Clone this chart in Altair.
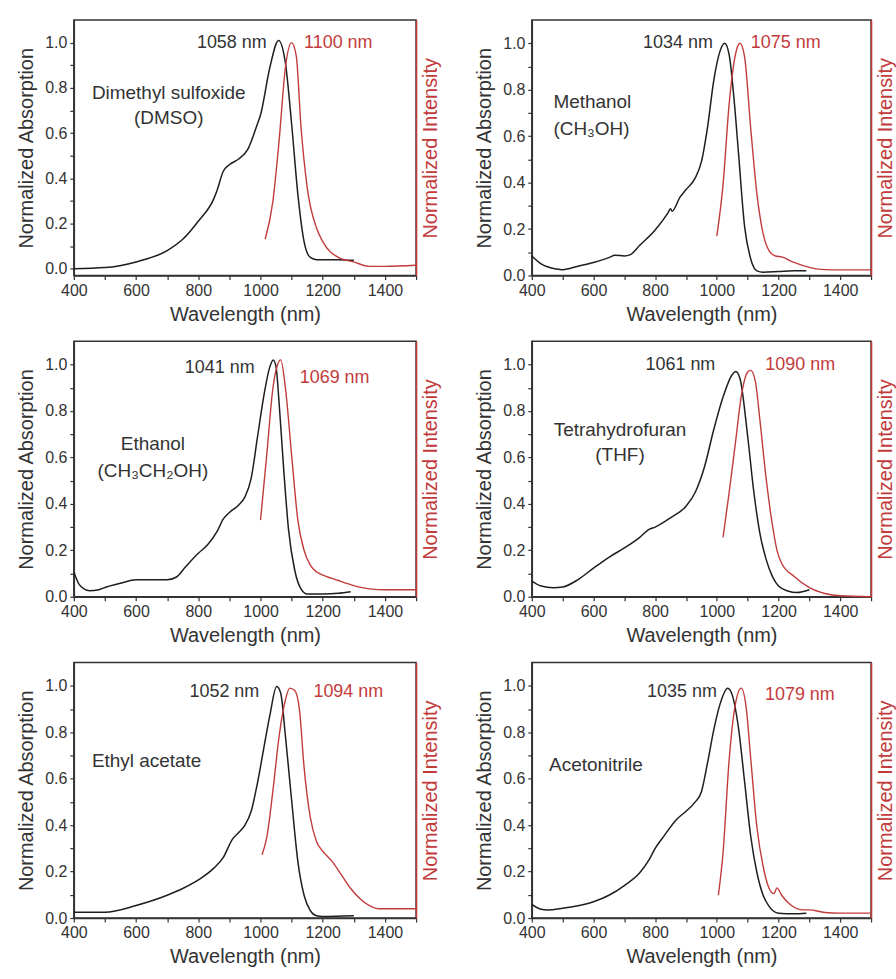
import altair as alt
import pandas as pd

RED = "#c23b3b"
INK = "#1e1e1e"
TXT = "#333333"
FONT = "Liberation Sans"

# ---------------- data ----------------
solvent_line1 = ["Dimethyl sulfoxide", "Methanol", "Ethanol", "Tetrahydrofuran", "Ethyl acetate", "Acetonitrile"]
solvent_line2 = ["(DMSO)", "(CH\u2083OH)", "(CH\u2083CH\u2082OH)", "(THF)", "", ""]
abs_peak_nm = [1058, 1034, 1041, 1061, 1052, 1035]
em_peak_nm = [1100, 1075, 1069, 1090, 1094, 1079]

# DMSO
dmso_abs_nm = [400, 500, 600, 700, 750, 800, 850, 860, 880, 900, 930, 960, 990, 1000, 1030, 1058, 1080, 1100, 1120, 1140, 1160, 1180, 1200, 1250, 1300]
dmso_abs = [0.0, 0.005, 0.03, 0.08, 0.13, 0.21, 0.31, 0.345, 0.43, 0.46, 0.485, 0.53, 0.64, 0.68, 0.89, 1.01, 0.91, 0.64, 0.33, 0.12, 0.05, 0.04, 0.04, 0.04, 0.037]
dmso_em_nm = [1015, 1040, 1060, 1080, 1100, 1115, 1130, 1150, 1180, 1200, 1250, 1300, 1350, 1400, 1500]
dmso_em = [0.13, 0.30, 0.57, 0.89, 1.0, 0.94, 0.63, 0.36, 0.18, 0.12, 0.05, 0.03, 0.01, 0.01, 0.015]

# Methanol
meoh_abs_nm = [400, 430, 480, 500, 550, 600, 650, 670, 700, 720, 750, 800, 840, 850, 855, 880, 900, 930, 950, 970, 990, 1010, 1025, 1040, 1055, 1070, 1090, 1110, 1130, 1150, 1200, 1250, 1290]
meoh_abs = [0.084, 0.05, 0.028, 0.025, 0.04, 0.056, 0.077, 0.087, 0.084, 0.09, 0.13, 0.196, 0.266, 0.287, 0.277, 0.336, 0.37, 0.42, 0.49, 0.64, 0.84, 0.965, 1.0, 0.95, 0.77, 0.53, 0.21, 0.07, 0.02, 0.014, 0.017, 0.02, 0.02]
meoh_em_nm = [1000, 1020, 1040, 1060, 1075, 1090, 1110, 1130, 1150, 1170, 1190, 1210, 1250, 1300, 1350, 1400, 1500]
meoh_em = [0.17, 0.39, 0.74, 0.95, 1.0, 0.94, 0.63, 0.35, 0.18, 0.105, 0.084, 0.08, 0.056, 0.035, 0.025, 0.024, 0.024]

# Ethanol
etoh_abs_nm = [400, 420, 450, 480, 500, 550, 600, 650, 700, 730, 760, 800, 830, 860, 880, 900, 930, 950, 970, 990, 1010, 1030, 1041, 1050, 1060, 1075, 1090, 1110, 1130, 1150, 1200, 1250, 1290]
etoh_abs = [0.107, 0.048, 0.026, 0.03, 0.04, 0.058, 0.073, 0.073, 0.073, 0.085, 0.13, 0.187, 0.224, 0.28, 0.334, 0.363, 0.395, 0.43, 0.51, 0.685, 0.86, 0.99, 1.02, 0.99, 0.83, 0.54, 0.29, 0.114, 0.034, 0.012, 0.012, 0.015, 0.022]
etoh_em_nm = [1000, 1020, 1040, 1055, 1065, 1080, 1100, 1120, 1140, 1160, 1180, 1190, 1250, 1300, 1350, 1400, 1500]
etoh_em = [0.33, 0.61, 0.90, 1.0, 1.02, 0.90, 0.61, 0.33, 0.20, 0.136, 0.107, 0.10, 0.07, 0.048, 0.034, 0.03, 0.03]

# Tetrahydrofuran
thf_abs_nm = [400, 430, 470, 500, 550, 600, 650, 700, 750, 780, 800, 850, 900, 930, 960, 990, 1020, 1050, 1061, 1075, 1100, 1120, 1140, 1160, 1180, 1200, 1230, 1260, 1300]
thf_abs = [0.067, 0.046, 0.039, 0.042, 0.074, 0.123, 0.17, 0.21, 0.256, 0.29, 0.30, 0.34, 0.39, 0.45, 0.56, 0.72, 0.86, 0.957, 0.97, 0.94, 0.69, 0.45, 0.27, 0.16, 0.088, 0.046, 0.025, 0.018, 0.03]
thf_em_nm = [1020, 1040, 1060, 1080, 1100, 1110, 1125, 1140, 1160, 1180, 1195, 1210, 1250, 1300, 1350, 1400, 1500]
thf_em = [0.256, 0.45, 0.66, 0.87, 0.968, 0.975, 0.926, 0.756, 0.507, 0.31, 0.2, 0.144, 0.088, 0.039, 0.014, 0.004, 0.0]

# Ethyl acetate
etac_abs_nm = [400, 500, 600, 700, 750, 800, 850, 880, 910, 930, 950, 970, 990, 1010, 1030, 1052, 1065, 1080, 1100, 1120, 1140, 1160, 1180, 1200, 1300]
etac_abs = [0.025, 0.025, 0.054, 0.098, 0.127, 0.164, 0.215, 0.26, 0.34, 0.368, 0.40, 0.46, 0.58, 0.727, 0.873, 0.997, 0.968, 0.785, 0.507, 0.244, 0.098, 0.032, 0.01, 0.007, 0.01]
etac_em_nm = [1005, 1020, 1040, 1060, 1080, 1094, 1110, 1125, 1140, 1160, 1180, 1200, 1230, 1260, 1290, 1320, 1360, 1380, 1500]
etac_em = [0.273, 0.346, 0.55, 0.785, 0.94, 0.99, 0.98, 0.90, 0.65, 0.434, 0.33, 0.288, 0.244, 0.186, 0.127, 0.083, 0.047, 0.04, 0.04]

# Acetonitrile
mecn_abs_nm = [400, 430, 450, 500, 550, 600, 650, 700, 750, 780, 800, 830, 870, 900, 930, 950, 970, 990, 1010, 1035, 1050, 1070, 1090, 1110, 1130, 1150, 1170, 1200, 1250, 1290]
mecn_abs = [0.059, 0.038, 0.035, 0.042, 0.053, 0.07, 0.098, 0.14, 0.195, 0.25, 0.30, 0.356, 0.425, 0.46, 0.50, 0.544, 0.67, 0.81, 0.92, 0.99, 0.96, 0.82, 0.586, 0.35, 0.195, 0.098, 0.049, 0.021, 0.018, 0.021]
mecn_em_nm = [1005, 1020, 1040, 1060, 1079, 1095, 1110, 1130, 1150, 1170, 1185, 1195, 1210, 1240, 1280, 1300, 1350, 1400, 1500]
mecn_em = [0.098, 0.28, 0.684, 0.92, 0.99, 0.907, 0.684, 0.39, 0.223, 0.126, 0.105, 0.13, 0.098, 0.056, 0.035, 0.035, 0.024, 0.021, 0.021]

abs_nm = [dmso_abs_nm, meoh_abs_nm, etoh_abs_nm, thf_abs_nm, etac_abs_nm, mecn_abs_nm]
abs_val = [dmso_abs, meoh_abs, etoh_abs, thf_abs, etac_abs, mecn_abs]
em_nm = [dmso_em_nm, meoh_em_nm, etoh_em_nm, thf_em_nm, etac_em_nm, mecn_em_nm]
em_val = [dmso_em, meoh_em, etoh_em, thf_em, etac_em, mecn_em]

# ---------------- layout (label anchors in data units, styles) ----------------
y_min = [-0.03, 0.0, 0.0, 0.0, 0.0, 0.0]
name_anchor = [(705, 0.775, "center"), (470, 0.745, "left"), (654, 0.656, "center"),
               (686, 0.72, "center"), (458, 0.675, "left"), (456, 0.66, "left")]
line_gap = [0.11, 0.115, 0.116, 0.11, 0.11, 0.11]
abs_lab_pos = [(1020, 1.0), (987, 1.0), (981, 0.985), (995, 1.0), (996, 0.975), (1000, 0.975)]
em_lab_pos = [(1140, 1.0), (1110, 1.0), (1126, 0.94), (1157, 1.0), (1170, 0.975), (1156, 0.96)]

W_LEFT, W_RIGHT, H = 343, 340, 256


def panel(i, width):
    xs = alt.Scale(domain=[400, 1500], nice=False, zero=False)
    ys = alt.Scale(domain=[y_min[i], 1.1], nice=False, zero=False)
    xaxis = alt.Axis(
        title="Wavelength (nm)",
        values=list(range(400, 1501, 100)),
        labelExpr="datum.value % 200 == 0 && datum.value < 1500 ? format(datum.value, 'd') : ''",
        grid=False, tickSize=4, labelPadding=3, titlePadding=6, labelFlush=False,
    )
    yaxis = alt.Axis(
        title="Normalized Absorption",
        values=[round(k * 0.1, 1) for k in range(11)],
        labelExpr="round(datum.value * 10) % 2 == 0 ? format(datum.value, '.1f') : ''",
        grid=False, tickSize=4, labelPadding=3, titlePadding=8, labelFlush=False,
    )
    yaxis_r = alt.Axis(
        title="Normalized Intensity", orient="right", labels=False, ticks=False, grid=False,
        titleColor=RED, domainColor=RED, titleAngle=270, titleBaseline="top", titlePadding=4,
    )
    dfa = pd.DataFrame({"nm": abs_nm[i], "v": abs_val[i]})
    dfe = pd.DataFrame({"nm": em_nm[i], "v": em_val[i]})

    a = alt.Chart(dfa).mark_line(color=INK, strokeWidth=1.5, interpolate="monotone").encode(
        x=alt.X("nm:Q", scale=xs, axis=xaxis),
        y=alt.Y("v:Q", scale=ys, axis=yaxis),
    )
    nx, ny, nal = name_anchor[i]
    names = pd.DataFrame({"nm": [nx, nx], "v": [ny, ny - line_gap[i]],
                          "t": [solvent_line1[i], solvent_line2[i]]})
    t_name = alt.Chart(names).mark_text(align=nal, baseline="middle", font=FONT, fontSize=19, color=TXT).encode(
        x=alt.X("nm:Q", scale=xs, axis=xaxis), y=alt.Y("v:Q", scale=ys, axis=yaxis), text="t:N")
    al = pd.DataFrame({"nm": [abs_lab_pos[i][0]], "v": [abs_lab_pos[i][1]], "t": [f"{abs_peak_nm[i]} nm"]})
    t_abs = alt.Chart(al).mark_text(align="right", baseline="middle", font=FONT, fontSize=18, color=TXT).encode(
        x=alt.X("nm:Q", scale=xs, axis=xaxis), y=alt.Y("v:Q", scale=ys, axis=yaxis), text="t:N")
    el = pd.DataFrame({"nm": [em_lab_pos[i][0]], "v": [em_lab_pos[i][1]], "t": [f"{em_peak_nm[i]} nm"]})
    t_em = alt.Chart(el).mark_text(align="left", baseline="middle", font=FONT, fontSize=18, color=RED).encode(
        x=alt.X("nm:Q", scale=xs, axis=xaxis), y=alt.Y("v:Q", scale=ys, axis=yaxis), text="t:N")

    left = alt.layer(a, t_name, t_abs, t_em)
    e = alt.Chart(dfe).mark_line(color=RED, strokeWidth=1.4, interpolate="monotone").encode(
        x=alt.X("nm:Q", scale=xs, axis=xaxis),
        y=alt.Y("v:Q", scale=ys, axis=yaxis_r),
    )
    return alt.layer(left, e).resolve_scale(y="independent").properties(width=width, height=H)


rows = [alt.hconcat(panel(2 * r, W_LEFT), panel(2 * r + 1, W_RIGHT), spacing=33) for r in range(3)]
chart = alt.vconcat(*rows, spacing=15).properties(
    padding={"left": 16, "top": 18, "right": 0, "bottom": 0}
).configure_axis(
    labelFont=FONT, titleFont=FONT, labelFontSize=16, titleFontSize=20, titleFontWeight="normal",
    labelColor=TXT, titleColor=TXT, domainColor="#333333", tickColor="#333333",
    domainWidth=1.5, tickWidth=1.2,
).configure_view(stroke="#333333", strokeWidth=1.5)

chart.save("out.html", embed_options={"renderer": "svg", "actions": False})
